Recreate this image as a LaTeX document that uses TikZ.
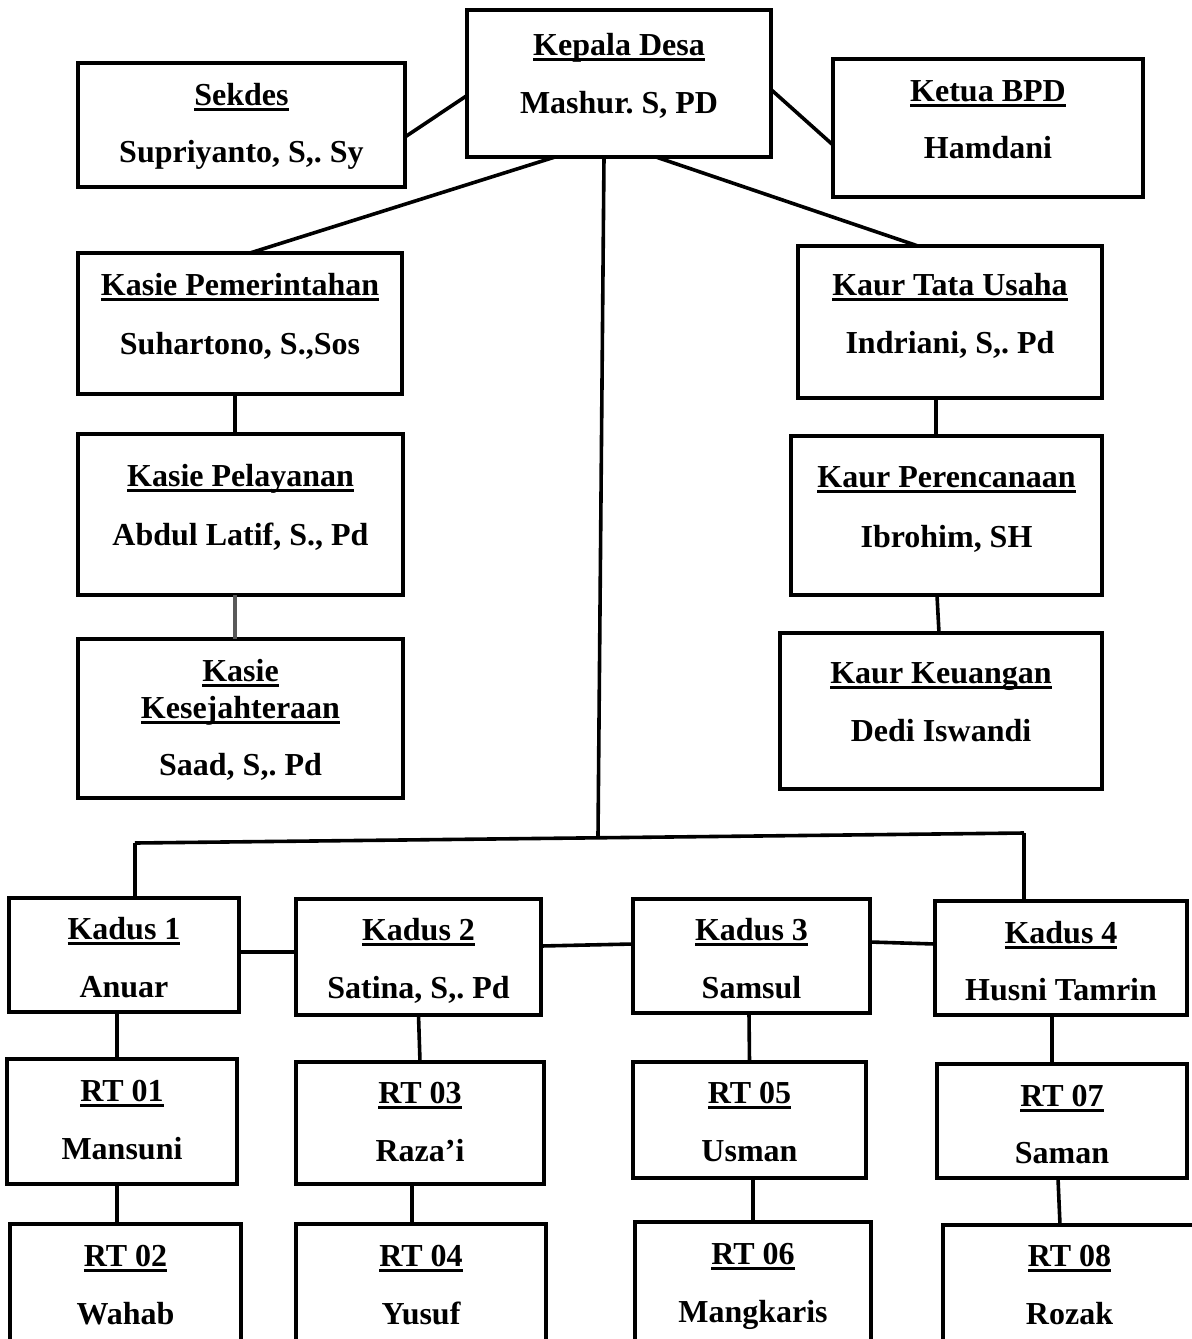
\documentclass[tikz,border=0pt]{standalone}
\usepackage{fontspec}
\setmainfont{Liberation Serif}
\usetikzlibrary{fit}

\newcommand{\jabfont}{\fontsize{16}{18.5}\selectfont\bfseries\frenchspacing}
% thick underline for the titles
\newcommand{\garis}[1]{\setbox0=\hbox{#1}\rlap{\rule[-3.2pt]{\wd0}{1.5pt}}\box0}
% box: name, x1, y1, x2, y2, title baseline, name baseline, title, person
\newcommand{\jab}[9]{%
  \node[box, fit={(#2,#3) (#4,#5)}] (#1) {};
  \node[ttl] (#1-j) at (#1.north |- 0,#6) {\garis{#8}};
  \node[ttl] (#1-n) at (#1.north |- 0,#7) {#9};}

\begin{document}
\begin{tikzpicture}[x=0.5pt, y=-0.5pt,
  box/.style={draw, rectangle, line width=2pt, inner sep=0pt, outer sep=0pt},
  ttl/.style={anchor=base, inner sep=0pt, font=\jabfont},
  conn/.style={line width=1.8pt}]
  \clip (0,0) rectangle (1192,1339);
  \fill[white] (0,0) rectangle (1192,1339);

  % pimpinan
  \jab{kades}{467}{10}{771}{157}{55}{113}{Kepala Desa}{Mashur. S, PD}
  \jab{sekdes}{78}{63}{405}{187}{105}{162}{Sekdes}{Supriyanto, S,. Sy}
  \jab{bpd}{833}{59}{1143}{197}{101}{158}{Ketua BPD}{Hamdani}

  % kasie
  \jab{kspem}{78}{253}{402}{394}{295}{354}{Kasie Pemerintahan}{Suhartono, S.,Sos}
  \jab{kspel}{78}{434}{403}{595}{486}{545}{Kasie Pelayanan}{Abdul Latif, S., Pd}
  \node[box, fit={(78,639) (403,798)}] (kskes) {};
  \node[ttl] (kskes-j1) at (kskes.north |- 0,681) {\garis{Kasie}};
  \node[ttl] (kskes-j2) at (kskes.north |- 0,718) {\garis{Kesejahteraan}};
  \node[ttl] (kskes-n) at (kskes.north |- 0,775) {Saad, S,. Pd};

  % kaur
  \jab{krtu}{798}{246}{1102}{398}{295}{353}{Kaur Tata Usaha}{Indriani, S,. Pd}
  \jab{krren}{791}{436}{1102}{595}{487}{547}{Kaur Perencanaan}{Ibrohim, SH}
  \jab{krkeu}{780}{633}{1102}{789}{683}{741}{Kaur Keuangan}{Dedi Iswandi}

  % kadus
  \jab{kd1}{9}{898}{239}{1012}{939}{997}{Kadus 1}{Anuar}
  \jab{kd2}{296}{899}{541}{1015}{940}{998}{Kadus 2}{Satina, S,. Pd}
  \jab{kd3}{633}{899}{870}{1013}{940}{998}{Kadus 3}{Samsul}
  \jab{kd4}{935}{901}{1187}{1015}{943}{1000}{Kadus 4}{Husni Tamrin}

  % rt
  \jab{rt1}{7}{1059}{237}{1184}{1101}{1159}{RT 01}{Mansuni}
  \jab{rt3}{296}{1062}{544}{1184}{1103}{1161}{RT 03}{Raza’i}
  \jab{rt5}{633}{1062}{866}{1178}{1103}{1161}{RT 05}{Usman}
  \jab{rt7}{937}{1064}{1187}{1178}{1106}{1163}{RT 07}{Saman}
  \jab{rt2}{10}{1224}{241}{1380}{1266}{1324}{RT 02}{Wahab}
  \jab{rt4}{296}{1224}{546}{1380}{1266}{1324}{RT 04}{Yusuf}
  \jab{rt6}{635}{1222}{871}{1380}{1264}{1322}{RT 06}{Mangkaris}
  \jab{rt8}{943}{1225}{1196}{1380}{1266}{1324}{RT 08}{Rozak}

  % garis
  \coordinate (busL) at (135,843);
  \coordinate (busM) at (598,836);
  \coordinate (busR) at (1024,833);
  \draw[conn] ([yshift=-6pt]sekdes.east) -- ([yshift=-6pt]kades.west);
  \draw[conn] ([yshift=-3pt]kades.east) -- ([yshift=-8.5pt]bpd.west);
  \draw[conn] ([xshift=-32pt]kades.south) -- ([xshift=5pt]kspem.north);
  \draw[conn] ([xshift=18.5pt]kades.south) -- ([xshift=-16pt]krtu.north);
  \draw[conn] ([xshift=-7.5pt]kades.south) -- (busM);
  \draw[conn] (busL) -- (busR);
  \draw[conn] (busL) -- ([xshift=5.5pt]kd1.north);
  \draw[conn] (busR) -- ([xshift=-18.5pt]kd4.north);
  \draw[conn] ([xshift=-2.5pt]kspem.south) -- ([xshift=-2.75pt]kspel.north);
  \draw[conn, draw=black!65] ([xshift=-2.75pt]kspel.south) -- ([xshift=-2.75pt]kskes.north);
  \draw[conn] ([xshift=-7pt]krtu.south) -- ([xshift=-5.25pt]krren.north);
  \draw[conn] ([xshift=-4.75pt]krren.south) -- ([xshift=-1pt]krkeu.north);
  \draw[conn] ([yshift=1.5pt]kd1.east) -- ([yshift=2.5pt]kd2.west);
  \draw[conn] ([yshift=5.5pt]kd2.east) -- ([yshift=6pt]kd3.west);
  \draw[conn] ([yshift=7pt]kd3.east) -- ([yshift=7pt]kd4.west);
  \draw[conn] ([xshift=-3.5pt]kd1.south) -- ([xshift=-2.5pt]rt1.north);
  \draw[conn] (kd2.south) -- (rt3.north);
  \draw[conn] ([xshift=-1.25pt]kd3.south) -- (rt5.north);
  \draw[conn] ([xshift=-4.5pt]kd4.south) -- ([xshift=-5pt]rt7.north);
  \draw[conn] ([xshift=-2.5pt]rt1.south) -- ([xshift=-4.25pt]rt2.north);
  \draw[conn] ([xshift=-4pt]rt3.south) -- ([xshift=-4.5pt]rt4.north);
  \draw[conn] ([xshift=1.75pt]rt5.south) -- (rt6.north);
  \draw[conn] ([xshift=-2pt]rt7.south) -- ([xshift=-4.75pt]rt8.north);
\end{tikzpicture}
\end{document}
